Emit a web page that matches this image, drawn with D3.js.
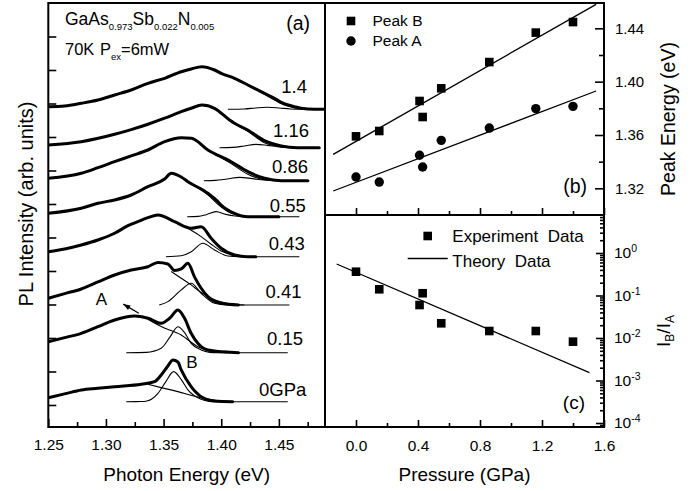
<!DOCTYPE html>
<html><head><meta charset="utf-8">
<script src="https://cdn.jsdelivr.net/npm/d3@7"></script>
<style>
html,body{margin:0;padding:0;background:#fff;}
svg{display:block;font-family:"Liberation Sans",Arial,Helvetica,sans-serif;}
</style></head><body>
<svg id="chart" width="694" height="491"></svg>
<script>
// ---------------- DATA ----------------
// Panel (a): photon energy axis / PL spectra (intensity relative to each spectrum's baseline)
const energyTicks = [1.25, 1.30, 1.35, 1.40, 1.45];
const energyMinorTicks = [1.275, 1.325, 1.375, 1.425, 1.475];
const intensityTicks = [0,1,2,3,4,5,6,7,8,9,10,11];
const spectrumLabels = ["0GPa", "0.15", "0.41", "0.43", "0.55", "0.86", "1.16", "1.4"];
const spectrumOffsets = [0.099, 1.561, 2.985, 4.427, 5.621, 6.696, 7.681, 8.827];

const exp_0 = [[1.250,0.119],[1.265,0.24],[1.2786,0.349],[1.293,0.40],[1.3075,0.448],[1.3306,0.519],[1.3422,0.597],[1.3479,0.797],[1.3537,1.066],[1.3581,1.245],[1.3624,1.185],[1.3653,0.946],[1.3739,0.448],[1.3826,0.149],[1.3942,0.021],[1.41,0]];
const exp_015 = [[1.250,0.328],[1.2642,0.45],[1.2786,0.579],[1.293,0.776],[1.3075,0.976],[1.3249,1.096],[1.3364,1.027],[1.3479,0.878],[1.3552,1.027],[1.3624,1.275],[1.3682,1.027],[1.3739,0.579],[1.3797,0.281],[1.3884,0.081],[1.4086,0.012],[1.415,0]];
const exp_041 = [[1.250,0.2],[1.2642,0.34],[1.2786,0.478],[1.293,0.687],[1.3075,0.896],[1.3219,1.045],[1.3364,1.143],[1.3451,1.27],[1.3537,1.224],[1.3595,1.03],[1.3653,1.075],[1.3711,1.245],[1.3768,0.84],[1.3826,0.499],[1.3884,0.248],[1.3999,0.051],[1.415,0]];
const exp_043 = [[1.250,0.149],[1.2642,0.23],[1.2786,0.349],[1.293,0.498],[1.3075,0.699],[1.3191,0.925],[1.3277,1.045],[1.3364,1.164],[1.3451,1.245],[1.3595,1.045],[1.3739,0.848],[1.3826,0.896],[1.3913,0.549],[1.3999,0.251],[1.4115,0.051],[1.4231,0],[1.43,0]];
const exp_055 = [[1.250,0.101],[1.2786,0.251],[1.2931,0.40],[1.3075,0.499],[1.3219,0.648],[1.3364,0.896],[1.3509,1.125],[1.3566,1.296],[1.3653,1.185],[1.3711,1.045],[1.3884,0.699],[1.3971,0.448],[1.3999,0.349],[1.4115,0.101],[1.4231,0],[1.45,0]];
const exp_086 = [[1.250,0.072],[1.2786,0.221],[1.2931,0.388],[1.3075,0.567],[1.3219,0.74],[1.3364,0.916],[1.3509,1.164],[1.3653,1.28],[1.374,1.27],[1.3884,0.916],[1.4086,0.567],[1.4231,0.269],[1.4375,0.072],[1.4519,0],[1.475,0]];
const exp_116 = [[1.250,0.081],[1.2786,0.179],[1.3075,0.40],[1.3219,0.54],[1.3364,0.70],[1.3509,0.88],[1.3653,1.075],[1.3739,1.176],[1.3832,1.275],[1.3942,1.176],[1.4072,0.827],[1.4115,0.728],[1.423,0.528],[1.4375,0.209],[1.452,0.051],[1.466,0],[1.485,0]];
const exp_14 = [[1.250,0.078],[1.2642,0.099],[1.2786,0.179],[1.2931,0.278],[1.3075,0.427],[1.3219,0.576],[1.3364,0.776],[1.3509,0.925],[1.3653,1.122],[1.3739,1.203],[1.3832,1.272],[1.3942,1.173],[1.4,1.075],[1.4115,0.925],[1.4231,0.725],[1.4346,0.525],[1.4462,0.328],[1.4519,0.209],[1.4635,0.078],[1.4692,0.03],[1.481,0],[1.49,0]];

const peakA_0 = [[1.3364,0.52],[1.3479,0.42],[1.3624,0.30],[1.3797,0.14],[1.3999,0.02],[1.41,0]];
const peakA_015 = [[1.3364,1.0],[1.3479,0.78],[1.3653,0.53],[1.3797,0.18],[1.3942,0.03],[1.405,0]];
const peakA_041 = [[1.3566,1.0],[1.3653,0.80],[1.3739,0.6],[1.3815,0.40],[1.3913,0.2],[1.3987,0.1],[1.41,0.02],[1.42,0]];
const peakA_043 = [[1.3653,0.95],[1.3739,0.79],[1.3826,0.60],[1.3913,0.37],[1.3999,0.17],[1.4115,0.04],[1.4231,0]];
const peakA_055 = [[1.3711,1.045],[1.3884,0.65],[1.3971,0.37],[1.4086,0.10],[1.42,0.01],[1.43,0]];
const peakA_086 = [[1.3884,0.91],[1.4086,0.51],[1.4231,0.19],[1.4375,0.03],[1.45,0]];
const peakA_116 = [[1.4072,0.82],[1.4115,0.72],[1.423,0.49],[1.4375,0.15],[1.452,0.03],[1.466,0]];
const peakA_14 = [[1.4,1.075],[1.4115,0.925],[1.4231,0.72],[1.4346,0.50],[1.4462,0.28],[1.4519,0.17],[1.4635,0.05],[1.475,0.01],[1.49,0]];

const peakB_0 = [[1.3176,0],[1.33,0.003],[1.3364,0.03],[1.3451,0.25],[1.352,0.6],[1.3587,0.896],[1.3655,0.65],[1.3711,0.35],[1.3826,0.07],[1.39,0.01],[1.3942,0],[1.4577,0]];
const peakB_015 = [[1.3176,0],[1.335,0.01],[1.3479,0.131],[1.3552,0.45],[1.3624,0.776],[1.3682,0.6],[1.3739,0.281],[1.3826,0.081],[1.39,0.01],[1.3960,0],[1.4577,0]];
const peakB_041 = [[1.3462,0],[1.3537,0.1],[1.3653,0.45],[1.3739,0.65],[1.3826,0.35],[1.3942,0.05],[1.405,0],[1.4591,0]];
const peakB_043 = [[1.352,0],[1.3653,0.03],[1.374,0.15],[1.384,0.40],[1.3942,0.2],[1.4057,0.02],[1.415,0],[1.4678,0]];
const peakB_055 = [[1.3705,0],[1.38,0.01],[1.387,0.06],[1.3955,0.15],[1.404,0.07],[1.412,0.02],[1.42,0],[1.4678,0]];
const peakB_086 = [[1.3849,0],[1.395,0.01],[1.405,0.05],[1.416,0.10],[1.427,0.06],[1.437,0.02],[1.45,0],[1.4765,0]];
const peakB_116 = [[1.3985,0],[1.41,0.01],[1.42,0.05],[1.43,0.10],[1.44,0.07],[1.45,0.025],[1.46,0.005],[1.4855,0]];
const peakB_14 = [[1.4057,0],[1.42,0.01],[1.43,0.04],[1.44,0.06],[1.45,0.04],[1.46,0.01],[1.47,0],[1.49,0]];

// Panels (b),(c): pressure dependence
const pressureTicks = [0.0, 0.4, 0.8, 1.2, 1.6];
const pressureMinorTicks = [0.2, 0.6, 1.0, 1.4];
const peakEnergyTicks = [1.32, 1.36, 1.40, 1.44];
const peakEnergyMinorTicks = [1.34, 1.38, 1.42];
const ratioTicks = [1, 0.1, 0.01, 0.001, 0.0001];
const pressures = [0, 0.15, 0.41, 0.43, 0.55, 0.86, 1.16, 1.4];
const peakBEnergy = [1.359, 1.363, 1.3855, 1.3735, 1.395, 1.4147, 1.4368, 1.4447];
const peakAEnergy = [1.3285, 1.3247, 1.3448, 1.336, 1.356, 1.3652, 1.3798, 1.3815];
const intensityRatio = [0.363, 0.14, 0.0597, 0.113, 0.0222, 0.0146, 0.0146, 0.0082];
const fitPeakB = [[-0.147, 1.3455], [1.549, 1.458]];
const fitPeakA = [[-0.147, 1.318], [1.549, 1.393]];
const theoryRatio = [[-0.125, 0.551], [1.506, 0.00153]];

// ---------------- LAYOUT ----------------
const svg = d3.select("#chart");
const PA = {l:48.3, r:325, t:3, b:427};
const PB = {l:325, r:604, t:3, b:215};
const PC = {l:325, r:604, t:215, b:427};
const FONT_TICK = "15.5px";

const xE = d3.scaleLinear().domain([1.25, 1.49]).range([PA.l, PA.r]);
const yI = d3.scaleLinear().domain([-0.657, 12]).range([PA.b, PA.t]);
const xP = d3.scaleLinear().domain([-0.2, 1.6]).range([PB.l, PB.r]);
const yE = d3.scaleLinear().domain([1.30, 1.459]).range([PB.b, PB.t]);
const yR = d3.scaleLog().domain([Math.pow(10,-4.094), Math.pow(10,0.894)]).range([PC.b, PC.t]);

const defs = svg.append("defs");
[["clipA",PA],["clipB",PB],["clipC",PC]].forEach(([id,p])=>{
  defs.append("clipPath").attr("id",id).append("rect")
    .attr("x",p.l).attr("y",p.t).attr("width",p.r-p.l).attr("height",p.b-p.t);
});

function styleAxis(g, size){
  g.select(".domain").remove();
  g.selectAll(".tick line").attr("stroke","#000").attr("stroke-width",1.6);
  g.selectAll("text").attr("fill","#000").style("font-size", size||FONT_TICK)
    .style("font-family",'"Liberation Sans",Arial,sans-serif');
  g.attr("font-family",null).attr("font-size",null);
}

// ---- Panel (a) ----
const spectra = spectrumLabels.map((lab,i)=>({
  label: lab, offset: spectrumOffsets[i],
  exp: [exp_0,exp_015,exp_041,exp_043,exp_055,exp_086,exp_116,exp_14][i],
  a: [peakA_0,peakA_015,peakA_041,peakA_043,peakA_055,peakA_086,peakA_116,peakA_14][i],
  b: [peakB_0,peakB_015,peakB_041,peakB_043,peakB_055,peakB_086,peakB_116,peakB_14][i]
}));
const gA = svg.append("g").attr("clip-path","url(#clipA)");
spectra.forEach(s=>{
  const line = d3.line().x(d=>xE(d[0])).y(d=>yI(s.offset+d[1])).curve(d3.curveMonotoneX);
  gA.append("path").attr("d",line(s.b)).attr("fill","none").attr("stroke","#000").attr("stroke-width",1.1);
  gA.append("path").attr("d",line(s.a)).attr("fill","none").attr("stroke","#000").attr("stroke-width",1.1);
  gA.append("path").attr("d",line(s.exp)).attr("fill","none").attr("stroke","#000")
    .attr("stroke-width",3).attr("stroke-linejoin","round").attr("stroke-linecap","round");
});
// spectrum labels (layout: right end energy, lift in px)
const labelEnd = [1.4738, 1.471, 1.4696, 1.4725, 1.4733, 1.4753, 1.4762, 1.4744];
const labelLift = [6, 7.7, 6.7, 6.7, 4.4, 7.4, 11, 16.6];
spectra.forEach((s,i)=>{
  svg.append("text").attr("x",xE(labelEnd[i])).attr("y",yI(s.offset)-labelLift[i])
    .attr("text-anchor","end").style("font-size","18.5px").text(s.label);
});
// A and B annotations
svg.append("text").attr("x",xE(1.3745)).attr("y",yI(spectrumOffsets[0]+1.006))
  .attr("text-anchor","middle").style("font-size","17px").text("B");
svg.append("text").attr("x",xE(1.2960)).attr("y",yI(spectrumOffsets[1]+1.41))
  .attr("text-anchor","middle").style("font-size","17px").text("A");
{
  const x1=xE(1.3285), y1=yI(spectrumOffsets[1]+1.18), x0=xE(1.3150), y0=yI(spectrumOffsets[1]+1.45);
  svg.append("line").attr("x1",x0).attr("y1",y0).attr("x2",x1).attr("y2",y1).attr("stroke","#000").attr("stroke-width",1.2);
  const ang=Math.atan2(y0-y1,x0-x1), L=7, w=2.6;
  const bx=x0-L*Math.cos(ang), by=y0-L*Math.sin(ang);
  svg.append("path").attr("d",`M${x0},${y0}L${bx+w*Math.sin(ang)},${by-w*Math.cos(ang)}L${bx-w*Math.sin(ang)},${by+w*Math.cos(ang)}Z`).attr("fill","#000");
}
// axes (a)
let g;
g = svg.append("g").attr("transform",`translate(0,${PA.b})`)
  .call(d3.axisBottom(xE).tickValues(energyTicks).tickSize(-8).tickPadding(12).tickFormat(d3.format(".2f")));
styleAxis(g);
g = svg.append("g").attr("transform",`translate(0,${PA.b})`)
  .call(d3.axisBottom(xE).tickValues(energyMinorTicks).tickSize(-5).tickFormat(""));
styleAxis(g);
g = svg.append("g").attr("transform",`translate(${PA.l},0)`)
  .call(d3.axisLeft(yI).tickValues(intensityTicks).tickSize(-8).tickFormat(""));
styleAxis(g);
// header texts
{
  const t = svg.append("text").attr("x",65).attr("y",25).style("font-size","17.5px");
  t.append("tspan").text("GaAs");
  t.append("tspan").attr("dy",4.5).style("font-size","9.5px").text("0.973");
  t.append("tspan").attr("dy",-4.5).text("Sb");
  t.append("tspan").attr("dy",4.5).style("font-size","9.5px").text("0.022");
  t.append("tspan").attr("dy",-4.5).text("N");
  t.append("tspan").attr("dy",4.5).style("font-size","9.5px").text("0.005");
  const u = svg.append("text").attr("x",65).attr("y",55).style("font-size","16.5px");
  u.append("tspan").text("70K");
  u.append("tspan").attr("x",100).text("P");
  u.append("tspan").attr("dy",5).style("font-size","9.5px").text("ex");
  u.append("tspan").attr("dy",-5).text("=6mW");
}
svg.append("text").attr("x",310).attr("y",30).attr("text-anchor","end").style("font-size","19.5px").text("(a)");
svg.append("text").attr("x",(PA.l+PA.r)/2).attr("y",481).attr("text-anchor","middle").style("font-size","19px").text("Photon Energy (eV)");
svg.append("text").attr("transform","translate(33,204) rotate(-90)").attr("text-anchor","middle").style("font-size","20px").text("PL Intensity (arb. units)");

// ---- Panel (b) ----
const gB = svg.append("g").attr("clip-path","url(#clipB)");
const lineB = d3.line().x(d=>xP(d[0])).y(d=>yE(d[1]));
gB.append("path").attr("d",lineB(fitPeakB)).attr("stroke","#000").attr("stroke-width",1.3).attr("fill","none");
gB.append("path").attr("d",lineB(fitPeakA)).attr("stroke","#000").attr("stroke-width",1.3).attr("fill","none");
const SQ = 8.6;
gB.selectAll("rect.pb").data(pressures).join("rect").attr("class","pb")
  .attr("x",(d)=>xP(d)-SQ/2).attr("y",(d,i)=>yE(peakBEnergy[i])-SQ/2).attr("width",SQ).attr("height",SQ).attr("fill","#000");
gB.selectAll("circle.pa").data(pressures).join("circle").attr("class","pa")
  .attr("cx",d=>xP(d)).attr("cy",(d,i)=>yE(peakAEnergy[i])).attr("r",4.7).attr("fill","#000");
// legend (b)
svg.append("rect").attr("x",351-SQ/2).attr("y",21-SQ/2).attr("width",SQ).attr("height",SQ).attr("fill","#000");
svg.append("circle").attr("cx",351).attr("cy",41).attr("r",4.7).attr("fill","#000");
svg.append("text").attr("x",372.5).attr("y",26).style("font-size","15.5px").text("Peak B");
svg.append("text").attr("x",372.5).attr("y",46).style("font-size","15.5px").text("Peak A");
g = svg.append("g").attr("transform",`translate(${PB.r},0)`)
  .call(d3.axisRight(yE).tickValues(peakEnergyTicks).tickSize(-9).tickPadding(11).tickFormat(d3.format(".2f")));
styleAxis(g, "15px");
g = svg.append("g").attr("transform",`translate(${PB.r},0)`)
  .call(d3.axisRight(yE).tickValues(peakEnergyMinorTicks).tickSize(-5).tickFormat(""));
styleAxis(g);
g = svg.append("g").attr("transform",`translate(0,${PB.b})`)
  .call(d3.axisBottom(xP).tickValues(pressureTicks).tickSize(-7).tickFormat(""));
styleAxis(g);
g = svg.append("g").attr("transform",`translate(0,${PB.b})`)
  .call(d3.axisBottom(xP).tickValues(pressureMinorTicks).tickSize(-4).tickFormat(""));
styleAxis(g);
svg.append("text").attr("x",587).attr("y",193).attr("text-anchor","end").style("font-size","19.5px").text("(b)");
svg.append("text").attr("transform","translate(675,119) rotate(-90)").attr("text-anchor","middle").style("font-size","19.5px").text("Peak Energy (eV)");

// ---- Panel (c) ----
const gC = svg.append("g").attr("clip-path","url(#clipC)");
const lineC = d3.line().x(d=>xP(d[0])).y(d=>yR(d[1]));
gC.append("path").attr("d",lineC(theoryRatio)).attr("stroke","#000").attr("stroke-width",1.3).attr("fill","none");
gC.selectAll("rect.pc").data(pressures).join("rect").attr("class","pc")
  .attr("x",d=>xP(d)-SQ/2).attr("y",(d,i)=>yR(intensityRatio[i])-SQ/2).attr("width",SQ).attr("height",SQ).attr("fill","#000");
// legend (c)
svg.append("rect").attr("x",427.7-SQ/2).attr("y",236-SQ/2).attr("width",SQ).attr("height",SQ).attr("fill","#000");
svg.append("line").attr("x1",407.7).attr("x2",447.7).attr("y1",258.5).attr("y2",258.5).attr("stroke","#000").attr("stroke-width",1.3);
svg.append("text").attr("x",452.3).attr("y",241.5).style("font-size","17px").style("white-space","pre").text("Experiment  Data");
svg.append("text").attr("x",452.3).attr("y",267).style("font-size","17px").style("white-space","pre").text("Theory  Data");
g = svg.append("g").attr("transform",`translate(0,${PC.b})`)
  .call(d3.axisBottom(xP).tickValues(pressureTicks).tickSize(-7).tickPadding(13).tickFormat(d3.format(".1f")));
styleAxis(g);
g = svg.append("g").attr("transform",`translate(0,${PC.b})`)
  .call(d3.axisBottom(xP).tickValues(pressureMinorTicks).tickSize(-4).tickFormat(""));
styleAxis(g);
g = svg.append("g").attr("transform",`translate(${PC.r},0)`)
  .call(d3.axisRight(yR).tickValues(ratioTicks).tickSize(-8).tickPadding(10).tickFormat(""));
styleAxis(g);
g.selectAll(".tick text").each(function(d){
  const t = d3.select(this).attr("dy","0.32em");
  t.append("tspan").text("10");
  t.append("tspan").attr("dy","-0.6em").style("font-size","10.5px").text(String(Math.round(Math.log10(d))));
});
const minorLog = yR.ticks().filter(v=>!ratioTicks.some(m=>Math.abs(m-v)/m<1e-6));
g = svg.append("g").attr("transform",`translate(${PC.r},0)`)
  .call(d3.axisRight(yR).tickValues(minorLog).tickSize(-4).tickFormat(""));
styleAxis(g);
svg.append("text").attr("x",585).attr("y",409).attr("text-anchor","end").style("font-size","19px").text("(c)");
svg.append("text").attr("x",(PB.l+PB.r)/2).attr("y",481).attr("text-anchor","middle").style("font-size","19px").text("Pressure (GPa)");
{
  const t = svg.append("text").attr("transform","translate(670,331) rotate(-90)").attr("text-anchor","middle").style("font-size","19px");
  t.append("tspan").text("I");
  t.append("tspan").attr("dy",4).style("font-size","12px").text("B");
  t.append("tspan").attr("dy",-4).text("/I");
  t.append("tspan").attr("dy",4).style("font-size","12px").text("A");
}

// ---- frames ----
[PA,PB,PC].forEach(p=>{
  svg.append("rect").attr("x",p.l).attr("y",p.t).attr("width",p.r-p.l).attr("height",p.b-p.t)
    .attr("fill","none").attr("stroke","#000").attr("stroke-width",2);
});
</script>
</body></html>
